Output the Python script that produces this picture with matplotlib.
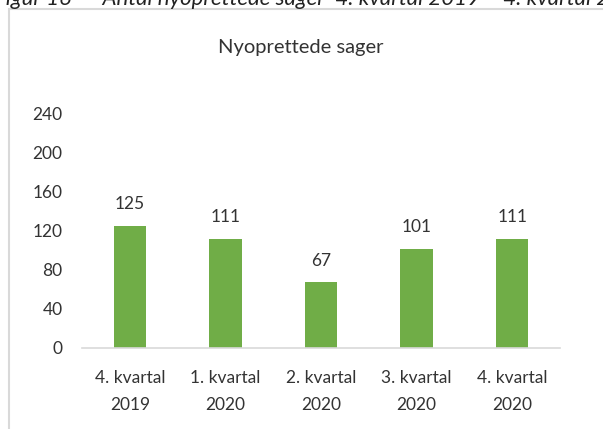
import matplotlib
matplotlib.use("Agg")
import matplotlib.pyplot as plt
from matplotlib.patches import Rectangle

categories = ["4. kvartal\n2019", "1. kvartal\n2020", "2. kvartal\n2020",
              "3. kvartal\n2020", "4. kvartal\n2020"]
values = [125, 111, 67, 101, 111]
yticks = [0, 40, 80, 120, 160, 200, 240]

plt.rcParams['font.family'] = ['Lato', 'DejaVu Sans']
text_col = '#333333'

fig = plt.figure(figsize=(6.03, 4.29), dpi=100)
ax = fig.add_axes([82/603, 1 - 348/429, (560 - 82)/603, (348 - 113)/429])

x = range(len(values))
bars = ax.bar(x, values, width=0.34, color='#70AD47')
for xi, v in zip(x, values):
    ax.annotate(str(v), (xi, v), xytext=(0, 10), textcoords='offset points',
                ha='center', va='bottom', fontsize=12.5, color=text_col)

ax.set_xlim(-0.5, len(values) - 0.5)
ax.set_ylim(0, 240)
ax.set_yticks(yticks)
ax.set_xticks(list(x))
ax.set_xticklabels(categories, linespacing=1.85)
ax.tick_params(axis='both', length=0, labelsize=12.5, colors=text_col)
ax.tick_params(axis='y', pad=14)
ax.tick_params(axis='x', pad=16)
for s in ['top', 'right', 'left']:
    ax.spines[s].set_visible(False)
ax.spines['bottom'].set_color('#d9d9d9')
ax.spines['bottom'].set_linewidth(1.2)

fig.text(301/603, 1 - 47/429, "Nyoprettede sager", ha='center', va='center',
         fontsize=14.5, color=text_col)

# caption above chart, cut at the top edge like the source crop
fig.text(-0.01, 1 - 5/429,
         "Figur 16      Antal nyoprettede sager  4. kvartal 2019 \u2013 4. kvartal 2020",
         ha='left', va='baseline', fontsize=16, style='italic', color='#222222')

fig.patches.append(Rectangle((9/603, -0.05), 1.0, 1 - 9/429 + 0.05,
                             transform=fig.transFigure, fill=False,
                             edgecolor='#d9d9d9', linewidth=1.5))

fig.savefig("out.png", dpi=100)
